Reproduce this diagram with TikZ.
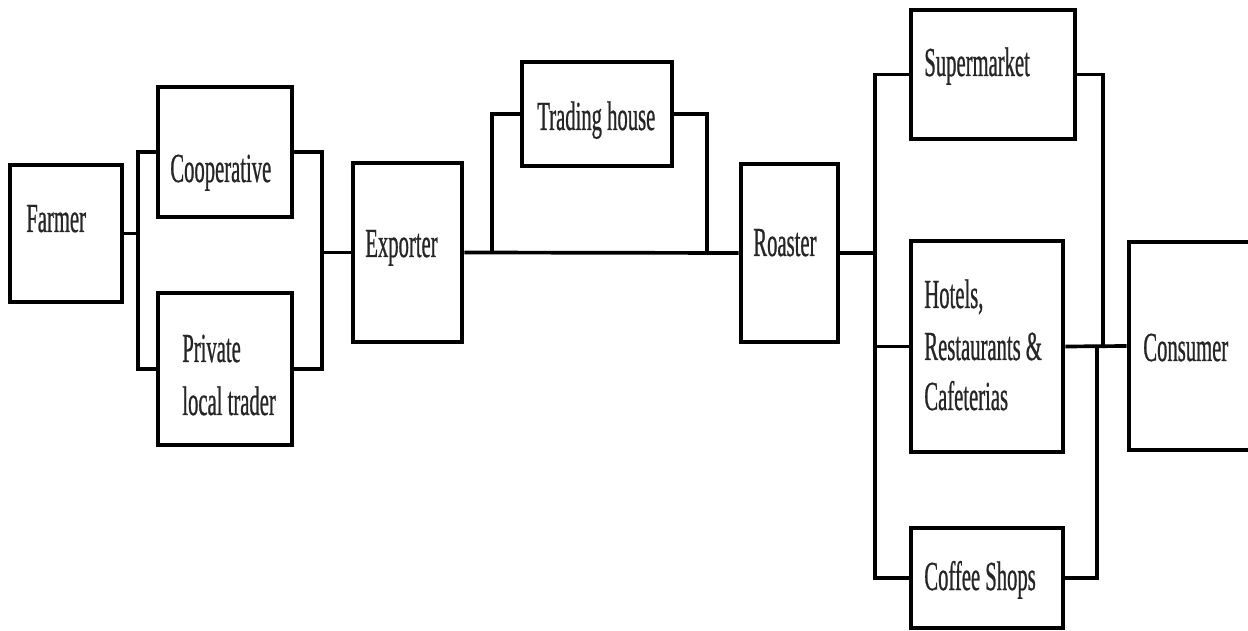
\documentclass[tikz,border=0pt]{standalone}
\usepackage{fontspec}
\usetikzlibrary{fit}
\newfontfamily\boxfont[FakeStretch=0.5,FakeBold=0.6]{Liberation Serif}
\begin{document}
\begin{tikzpicture}[x=0.02cm,y=-0.02cm,
  box/.style={draw=black,line width=2.8pt,inner sep=0pt,fill=white},
  txt/.style={font=\boxfont\fontsize{23.5}{29.5}\selectfont,inner sep=0pt,
    anchor=base west,text=black!85},
  link/.style={draw=black,line width=2.1pt}]
  \useasboundingbox (0,0) rectangle (1248,631);
  \clip (0,0) rectangle (1248,631);
  \fill[white] (0,0) rectangle (1248,631);

  % junction columns
  \coordinate (j1) at (138,0);
  \coordinate (j2) at (322,0);
  \coordinate (j3) at (492,0);
  \coordinate (j4) at (707,0);
  \coordinate (j5) at (875,0);
  \coordinate (j6) at (1103,0);
  \coordinate (j7) at (1097,0);

  % boxes
  \node[box,fit={(10,165) (122,302)}] (farmer) {};
  \node[box,fit={(158,87) (292,217)}] (coop) {};
  \node[box,fit={(158,293) (292,445)}] (priv) {};
  \node[box,fit={(353,163) (462,342)}] (exporter) {};
  \node[box,fit={(522,62) (672,166)}] (trading) {};
  \node[box,fit={(741,164) (838,342)}] (roaster) {};
  \node[box,fit={(911,10) (1075,139)}] (super) {};
  \node[box,fit={(911,241) (1063,452)}] (hotels) {};
  \node[box,fit={(911,528) (1063,628)}] (coffee) {};
  \node[box,fit={(1129,242) (1262,450)}] (consumer) {};

  % labels, one node per printed line
  \node[txt] (farmerT) at (26,232) {Farmer};
  \node[txt] (coopT) at (170,182) {Cooperative};
  \node[txt] (privT1) at (182,362) {Private};
  \node[txt] (privT2) at (182,415) {local trader};
  \node[txt] (exporterT) at (365,257) {Exporter};
  \node[txt] (tradingT) at (537,130) {Trading house};
  \node[txt] (roasterT) at (753,256) {Roaster};
  \node[txt] (superT) at (924,76) {Supermarket};
  \node[txt] (hotelsT1) at (924,308) {Hotels,};
  \node[txt] (hotelsT2) at (924,360) {Restaurants \&};
  \node[txt] (hotelsT3) at (924,410) {Cafeterias};
  \node[txt] (coffeeT) at (924,590) {Coffee Shops};
  \node[txt] (consumerT) at (1143,361) {Consumer};

  % farmer to cooperative / private trader
  \draw[link] (farmer.east) -- (farmer.east -| j1);
  \draw[link] (coop.west) -- (coop.west -| j1) -- (priv.west -| j1) -- (priv.west);
  % both to exporter
  \draw[link] (coop.east) -- (coop.east -| j2) -- (priv.east -| j2) -- (priv.east);
  \draw[link] (exporter.west) -- (exporter.west -| j2);
  % exporter to roaster, directly or through the trading house
  \draw[link] (exporter.east) -- (roaster.west);
  \draw[link] (exporter.east -| j3) |- (trading.west);
  \draw[link] (trading.east) -| (roaster.west -| j4);
  % roaster to the retail channels
  \draw[link] (roaster.east) -- (roaster.east -| j5);
  \draw[link] (super.west) -- (super.west -| j5) -- (coffee.west -| j5) -- (coffee.west);
  \draw[link] (hotels.west) -- (hotels.west -| j5);
  % retail channels to consumer
  \draw[link] (super.east) -- (super.east -| j6) -- (hotels.east -| j6);
  \draw[link] (coffee.east) -- (coffee.east -| j7) -- (hotels.east -| j7);
  \draw[link] (hotels.east) -- (consumer.west);
\end{tikzpicture}
\end{document}
